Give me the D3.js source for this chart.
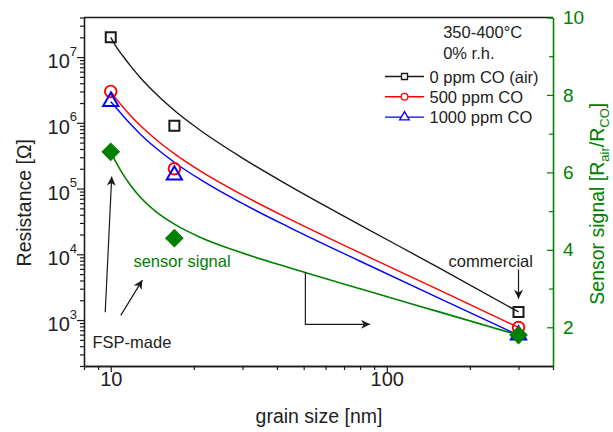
<!DOCTYPE html>
<html>
<head>
<meta charset="utf-8">
<script src="https://cdn.jsdelivr.net/npm/d3@7"></script>
<style>
  body { margin: 0; background: #fff; }
  svg { display: block; font-family: "Liberation Sans", Arial, sans-serif; }
</style>
</head>
<body>
<svg id="chart" width="613" height="432"></svg>
<script>
// measured points
const grainSize = [10, 17, 300];
const rAir = [2.0e7, 9.0e5, 1.33e3];
const r500 = [3.0e6, 2.0e5, 770];
const r1000 = [2.1e6, 1.6e5, 590];
const signal = [6.53, 4.30, 1.80];

// fitted curves
const fitX = [10, 10.42, 11.05, 11.81, 12.83, 14.54, 17.18, 21.15, 29.5, 44.7, 80.1, 155.8, 300];
const fitAir = [2.0e7, 1.48e7, 1.047e7, 7.27e6, 4.81e6, 2.79e6, 1.49e6, 7.65e5, 3.04e5, 1.08e5, 2.79e4, 6.10e3, 1.33e3];
const fit500 = [3.0e6, 2.38e6, 1.76e6, 1.284e6, 8.99e5, 5.63e5, 3.28e5, 1.84e5, 8.28e4, 3.40e4, 1.048e4, 2.82e3, 770];
const fit1000 = [2.1e6, 1.73e6, 1.293e6, 9.51e5, 6.66e5, 4.17e5, 2.43e5, 1.365e5, 6.15e4, 2.53e4, 7.84e3, 2.11e3, 590];
const fitSignal = [6.53, 6.276, 5.961, 5.661, 5.351, 4.992, 4.644, 4.321, 3.936, 3.530, 2.993, 2.391, 1.80];

const xMajor = [10, 100];
const xMinor = [8, 9, 20, 30, 40, 50, 60, 70, 80, 90, 200, 300, 400];
const yMajor = [1e3, 1e4, 1e5, 1e6, 1e7];
const y2Major = [2, 4, 6, 8, 10];
const y2Minor = [3, 5, 7, 9];
const legendLabels = ['0 ppm CO (air)', '500 ppm CO', '1000 ppm CO'];

const BLACK = '#1a1a1a', RED = '#ff0000', BLUE = '#0000ff', GREEN = '#008000';

const svg = d3.select('#chart');
const plotL = 84, plotR = 553, plotT = 17.5, plotB = 366;

const x = d3.scaleLog().domain([8, 400]).range([plotL, plotR]);
const y = d3.scaleLog().domain([200, 4e7]).range([plotB, plotT]);
const y2 = d3.scaleLinear().domain([1, 10]).range([plotB, plotT]);

const yMinor = [];
for (let e = 2; e <= 7; e++) {
  for (let m = 2; m <= 9; m++) {
    const v = m * Math.pow(10, e);
    if (v >= 200 && v <= 4e7) yMinor.push(v);
  }
}

svg.append('defs').append('marker')
  .attr('id', 'arrow')
  .attr('viewBox', '0 0 10 10')
  .attr('refX', 10).attr('refY', 5)
  .attr('markerUnits', 'userSpaceOnUse')
  .attr('markerWidth', 10).attr('markerHeight', 9)
  .attr('orient', 'auto')
  .append('path')
  .attr('d', 'M0,0 L10,5 L0,10 L3,5 Z')
  .attr('fill', BLACK);

// frame top line
svg.append('line')
  .attr('x1', plotL).attr('x2', plotR).attr('y1', plotT).attr('y2', plotT)
  .attr('stroke', BLACK).attr('stroke-width', 1.3);

// axes
const styleAxis = (g, color) => {
  g.select('.domain').attr('stroke', color).attr('stroke-width', 1.3);
  g.selectAll('.tick line').attr('stroke', color).attr('stroke-width', 1.2);
};

const gx = svg.append('g').attr('transform', `translate(0,${plotB})`)
  .call(d3.axisBottom(x).tickValues(xMajor).tickSize(6).tickSizeOuter(0).tickFormat(''));
styleAxis(gx, BLACK);
gx.selectAll('.tick').append('text')
  .attr('y', 20).attr('text-anchor', 'middle')
  .attr('fill', '#222').style('font-size', '20px')
  .text(d => d);
const gxm = svg.append('g').attr('transform', `translate(0,${plotB})`)
  .call(d3.axisBottom(x).tickValues(xMinor).tickSize(4).tickSizeOuter(0).tickFormat(''));
styleAxis(gxm, BLACK);

const gy = svg.append('g').attr('transform', `translate(${plotL},0)`)
  .call(d3.axisLeft(y).tickValues(yMajor).tickSize(7).tickSizeOuter(0).tickFormat(''));
styleAxis(gy, BLACK);
gy.selectAll('.tick').each(function (d) {
  const t = d3.select(this).append('text')
    .attr('x', -7).attr('y', 10.5).attr('text-anchor', 'end')
    .attr('fill', '#222').style('font-size', '20px');
  t.append('tspan').text('10');
  t.append('tspan').attr('dy', -12.5).style('font-size', '13px').text(Math.round(Math.log10(d)));
});
const gym = svg.append('g').attr('transform', `translate(${plotL},0)`)
  .call(d3.axisLeft(y).tickValues(yMinor).tickSize(4).tickSizeOuter(0).tickFormat(''));
styleAxis(gym, BLACK);

const gy2 = svg.append('g').attr('transform', `translate(${plotR},0)`)
  .call(d3.axisRight(y2).tickValues(y2Major).tickSize(-6).tickSizeOuter(0).tickPadding(10)
    .tickFormat(d3.format('d')));
styleAxis(gy2, GREEN);
gy2.selectAll('.tick text').attr('fill', GREEN).style('font-size', '19px')
  .style('font-family', '"Liberation Sans", Arial, sans-serif');
const gy2m = svg.append('g').attr('transform', `translate(${plotR},0)`)
  .call(d3.axisRight(y2).tickValues(y2Minor).tickSize(-4).tickSizeOuter(0).tickFormat(''));
styleAxis(gy2m, GREEN);

// axis titles
svg.append('text')
  .attr('x', (plotL + plotR) / 2 + 0.5).attr('y', 423)
  .attr('text-anchor', 'middle').attr('fill', '#222').style('font-size', '19.5px')
  .text('grain size [nm]');
svg.append('text')
  .attr('transform', `translate(31,${(plotT + plotB) / 2 + 11}) rotate(-90)`)
  .attr('text-anchor', 'middle').attr('fill', '#222').style('font-size', '19.5px')
  .text('Resistance [Ω]');
const t2 = svg.append('text')
  .attr('transform', `translate(604,${(plotT + plotB) / 2 + 12}) rotate(-90)`)
  .attr('text-anchor', 'middle').attr('fill', GREEN).style('font-size', '19.5px');
t2.append('tspan').text('Sensor signal [R');
t2.append('tspan').attr('dy', 5).style('font-size', '13px').text('air');
t2.append('tspan').attr('dy', -5).text('/R');
t2.append('tspan').attr('dy', 5).style('font-size', '13px').text('CO');
t2.append('tspan').attr('dy', -5).text(']');

// fit curves
const lineL = d3.line().x((d, i) => x(fitX[i])).y(d => y(d)).curve(d3.curveMonotoneX);
const lineR = d3.line().x((d, i) => x(fitX[i])).y(d => y2(d)).curve(d3.curveMonotoneX);
[[fitAir, BLACK], [fit500, RED], [fit1000, BLUE]].forEach(([data, color]) => {
  svg.append('path').datum(data).attr('d', lineL)
    .attr('fill', 'none').attr('stroke', color).attr('stroke-width', 1.4);
});
svg.append('path').datum(fitSignal).attr('d', lineR)
  .attr('fill', 'none').attr('stroke', GREEN).attr('stroke-width', 1.6);

// markers
const pts = (vals) => grainSize.map((g, i) => [g, vals[i]]);
svg.append('g').selectAll('path').data(pts(rAir)).join('path')
  .attr('d', d3.symbol(d3.symbolSquare, 100)())
  .attr('transform', d => `translate(${x(d[0])},${y(d[1])})`)
  .attr('fill', 'none').attr('stroke', BLACK).attr('stroke-width', 2);
svg.append('g').selectAll('circle').data(pts(r500)).join('circle')
  .attr('cx', d => x(d[0])).attr('cy', d => y(d[1])).attr('r', 5.8)
  .attr('fill', 'none').attr('stroke', RED).attr('stroke-width', 1.9);
svg.append('g').selectAll('path').data(pts(r1000)).join('path')
  .attr('d', d3.symbol(d3.symbolTriangle, 100)())
  .attr('transform', d => `translate(${x(d[0])},${y(d[1])})`)
  .attr('fill', 'none').attr('stroke', BLUE).attr('stroke-width', 2);
svg.append('g').selectAll('path').data(pts(signal)).join('path')
  .attr('d', d3.symbol(d3.symbolSquare, 150)())
  .attr('transform', d => `translate(${x(d[0])},${y2(d[1])}) rotate(45)`)
  .attr('fill', GREEN).attr('stroke', GREEN).attr('stroke-width', 1);

// annotations
const arrow = (points) => svg.append('path')
  .attr('d', d3.line().x(d => x(d[0])).y(d => y(d[1]))(points))
  .attr('fill', 'none').attr('stroke', BLACK).attr('stroke-width', 1.2)
  .attr('marker-end', 'url(#arrow)');
arrow([[9.55, 1.31e3], [10.08, 1.52e5]]);
arrow([[10.87, 1.18e3], [13.02, 4.05e3]]);
arrow([[50.7, 5.4e3], [50.7, 860], [87, 860]]);
arrow([[300, 5.9e3], [300, 2.1e3]]);

const note = (nx, ny, str, color, anchor) => svg.append('text')
  .attr('x', x(nx)).attr('y', y(ny)).attr('text-anchor', anchor || 'start')
  .attr('fill', color).style('font-size', '16.5px').text(str);
note(238, 6.5e3, 'commercial', '#222', 'middle');
note(12.08, 6.3e3, 'sensor signal', GREEN);
note(8.59, 372, 'FSP-made', '#222');
note(160, 1.93e7, '350-400°C', '#222');
note(160, 9.4e6, '0% r.h.', '#222');

// legend
const legend = svg.append('g').attr('transform', `translate(${plotR - 168},${plotT + 59})`);
const legendColors = [BLACK, RED, BLUE];
legendLabels.forEach((lab, i) => {
  const row = legend.append('g').attr('transform', `translate(0,${i * 20.3})`);
  row.append('line').attr('x1', 0).attr('x2', 39).attr('y1', 0).attr('y2', 0)
    .attr('stroke', legendColors[i]).attr('stroke-width', 1.4);
  const sym = [d3.symbolSquare, d3.symbolCircle, d3.symbolTriangle][i];
  row.append('path').attr('d', d3.symbol(sym, i === 2 ? 40 : 36)())
    .attr('transform', 'translate(19.5,0)')
    .attr('fill', '#fff').attr('stroke', legendColors[i]).attr('stroke-width', 1.3);
  row.append('text').attr('x', 44.5).attr('y', 6)
    .attr('fill', '#222').style('font-size', '16.5px').text(lab);
});
</script>
</body>
</html>
